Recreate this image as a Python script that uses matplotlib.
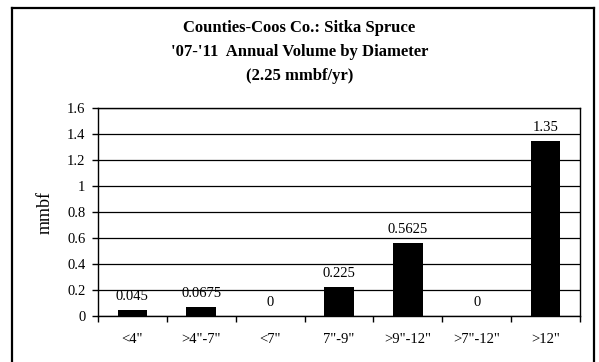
import matplotlib
matplotlib.use("Agg")
import matplotlib.pyplot as plt
from matplotlib.lines import Line2D

categories = ['<4"', '>4"-7"', '<7"', '7"-9"', '>9"-12"', '>7"-12"', '>12"']
values = [0.045, 0.0675, 0, 0.225, 0.5625, 0, 1.35]
labels = ['0.045', '0.0675', '0', '0.225', '0.5625', '0', '1.35']
yticks = [0, 0.2, 0.4, 0.6, 0.8, 1, 1.2, 1.4, 1.6]
ytick_labels = ['0', '0.2', '0.4', '0.6', '0.8', '1', '1.2', '1.4', '1.6']

plt.rcParams['font.family'] = ['Liberation Serif', 'DejaVu Serif']

W, H = 599, 362
fig = plt.figure(figsize=(W / 100, H / 100), dpi=100)
fig.patch.set_facecolor('white')

# outer frame (open at the bottom, as in the reference)
xl, xr, yt = 12 / W, 594 / W, 1 - 8 / H
for xs, ys in [([xl, xl], [-0.01, yt]), ([xl, xr], [yt, yt]), ([xr, xr], [yt, -0.01])]:
    fig.add_artist(Line2D(xs, ys, transform=fig.transFigure, color='black', linewidth=1.6))

ax = fig.add_axes([98 / W, 1 - 316 / H, (580 - 98) / W, (316 - 108) / H])
x = list(range(len(categories)))
ax.bar(x, values, width=0.43, color='black', zorder=3)
ax.set_xlim(-0.5, len(categories) - 0.5)
ax.set_ylim(0, 1.6)
ax.set_yticks(yticks)
ax.set_yticklabels(ytick_labels, fontsize=10.5)
ax.set_xticks([i + 0.5 for i in range(-1, len(categories))])
ax.set_xticklabels([])
ax.set_xticks(x, minor=True)
ax.set_xticklabels(categories, minor=True, fontsize=10.5)
ax.tick_params(axis='x', which='minor', length=0, pad=12)
ax.tick_params(axis='x', which='major', length=4, width=1, direction='out')
ax.tick_params(axis='y', length=4, width=1, direction='out', pad=5)
ax.grid(axis='y', color='black', linewidth=0.9, zorder=0)
for s in ax.spines.values():
    s.set_linewidth(1)
ax.set_ylabel('mmbf', fontsize=13, labelpad=10)

for xi, v, lab in zip(x, values, labels):
    ax.annotate(lab, (xi, v), xytext=(0, 5), textcoords='offset points',
                ha='center', va='bottom', fontsize=10.5, zorder=4)

fig.text(0.5, 1 - 28 / H, 'Counties-Coos Co.: Sitka Spruce', ha='center', va='center',
         fontsize=12, fontweight='bold')
fig.text(0.5, 1 - 52 / H, "'07-'11  Annual Volume by Diameter", ha='center', va='center',
         fontsize=12, fontweight='bold')
fig.text(0.5, 1 - 76 / H, '(2.25 mmbf/yr)', ha='center', va='center',
         fontsize=12, fontweight='bold')

fig.savefig('out.png', dpi=100)
